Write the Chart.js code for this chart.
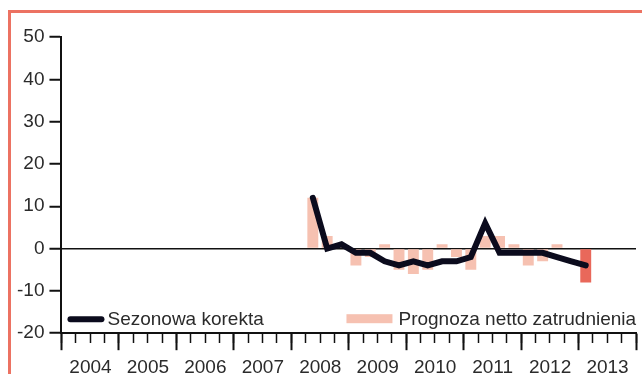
<!DOCTYPE html>
<html>
<head>
<meta charset="utf-8">
<script src="https://cdn.jsdelivr.net/npm/chart.js@4/dist/chart.umd.min.js"></script>
<style>
  html, body { margin: 0; padding: 0; background: #ffffff; }
  #wrap { position: relative; width: 642px; height: 374px; overflow: hidden; }
  #frame { position: absolute; left: 8px; top: 10px; right: 0; bottom: 0;
           border-top: 3px solid #ec7262; border-left: 3px solid #ec7262; }
  #c { position: absolute; left: 0; top: 0; }
</style>
</head>
<body>
<div id="wrap">
  <div id="frame"></div>
  <canvas id="c" width="642" height="374"></canvas>
</div>
<script>
// Quarterly axis, 2004 Q1 – 2013 Q4
const years = [2004, 2005, 2006, 2007, 2008, 2009, 2010, 2011, 2012, 2013];
const quarterNames = ['Q1', 'Q2', 'Q3', 'Q4'];

// Survey results, 2008 Q2 – 2013 Q1
const firstSurveyQuarter = '2008 Q2';
const netForecast = [12, 3, 1, -4, -2, 1, -5, -6, -5, 1, -2, -5, 3, 3, 1, -4, -3, 1, 0, -8];
const seasonallyAdjusted = [12, 0, 1, -1, -1, -3, -4, -3, -4, -3, -3, -2, 6, -1, -1, -1, -1, -2, -3, -4];

const yTicks = { min: -20, max: 50, step: 10 };

const seriesNames = ['Sezonowa korekta', 'Prognoza netto zatrudnienia'];

const lineColor = '#0b0b1d';
const barColor = '#f6c1b1';
const latestBarColor = '#e9685a';
const inkColor = '#111111';
const labelColor = '#2b2b2b';
const font = { family: "'Liberation Sans', Arial, Helvetica, sans-serif", size: 19 };

const quarterLabels = [];
years.forEach(y => quarterNames.forEach(q => quarterLabels.push(y + ' ' + q)));

const start = quarterLabels.indexOf(firstSurveyQuarter);
function placeOnAxis(values) {
  const out = quarterLabels.map(() => null);
  values.forEach((v, i) => { out[start + i] = v; });
  return out;
}
const forecastData = placeOnAxis(netForecast);
const adjustedData = placeOnAxis(seasonallyAdjusted);
const latestIndex = start + netForecast.length - 1;
const nQuarters = quarterLabels.length;

// Legend drawn inside the plot, above the time axis
const insideLegend = {
  id: 'insideLegend',
  afterDatasetsDraw(chart) {
    const { ctx, chartArea } = chart;
    const ds = chart.data.datasets;
    const y = chartArea.bottom - 14;
    ctx.save();
    ctx.font = font.size + 'px ' + font.family;
    ctx.textBaseline = 'middle';
    ctx.fillStyle = labelColor;

    // line sample
    ctx.strokeStyle = ds[0].borderColor;
    ctx.lineWidth = 6;
    ctx.lineCap = 'round';
    ctx.beginPath();
    ctx.moveTo(chartArea.left + 9, y);
    ctx.lineTo(chartArea.left + 40, y);
    ctx.stroke();
    ctx.fillText(ds[0].label, chartArea.left + 46, y + 1);

    // bar sample
    ctx.fillStyle = barColor;
    ctx.fillRect(chartArea.left + 285, y - 5, 46, 9);
    ctx.fillStyle = labelColor;
    ctx.fillText(ds[1].label, chartArea.left + 337, y + 1);
    ctx.restore();
  }
};

new Chart(document.getElementById('c'), {
  data: {
    labels: quarterLabels,
    datasets: [
      {
        type: 'line',
        label: seriesNames[0],
        data: adjustedData,
        borderColor: lineColor,
        borderWidth: 6,
        borderJoinStyle: 'miter',
        borderCapStyle: 'round',
        pointRadius: 0,
        tension: 0,
        xAxisID: 'x',
        yAxisID: 'y'
      },
      {
        type: 'bar',
        label: seriesNames[1],
        data: forecastData,
        backgroundColor: c => (c.dataIndex === latestIndex ? latestBarColor : barColor),
        borderWidth: 0,
        barPercentage: 0.76,
        categoryPercentage: 1,
        xAxisID: 'x',
        yAxisID: 'y'
      }
    ]
  },
  options: {
    responsive: false,
    animation: false,
    events: [],
    layout: { padding: { left: 12, right: -1, top: 37, bottom: -11 } },
    plugins: { legend: { display: false }, tooltip: { enabled: false } },
    scales: {
      x: { type: 'category', display: false, offset: true },
      y: {
        min: yTicks.min,
        max: yTicks.max,
        ticks: { stepSize: yTicks.step, font, color: labelColor, padding: 5 },
        grid: {
          drawOnChartArea: true,
          color: c => (c.tick && c.tick.value === 0 ? inkColor : 'rgba(0,0,0,0)'),
          lineWidth: 1.5,
          tickLength: 12,
          tickColor: inkColor,
          tickWidth: 2
        },
        border: { color: inkColor, width: 2 }
      },
      xYears: {
        type: 'linear',
        position: 'bottom',
        min: 0,
        max: nQuarters,
        afterBuildTicks: s => { s.ticks = years.map((_, i) => ({ value: i * 4 })).concat([{ value: nQuarters }]); },
        ticks: {
          autoSkip: false,
          maxRotation: 0,
          font,
          color: labelColor,
          padding: 6,
          labelOffset: 29,
          callback: v => (v < nQuarters ? String(years[v / 4]) : '')
        },
        grid: { drawOnChartArea: false, tickLength: 17, tickWidth: 2, tickColor: inkColor },
        border: { color: inkColor, width: 2 }
      },
      xQuarters: {
        type: 'linear',
        position: { y: yTicks.min },
        min: 0,
        max: nQuarters,
        afterBuildTicks: s => { s.ticks = quarterLabels.map((_, i) => ({ value: i })).concat([{ value: nQuarters }]); },
        ticks: { display: false },
        grid: { drawOnChartArea: false, tickLength: 10, tickWidth: 1.5, tickColor: inkColor },
        border: { display: false }
      }
    }
  },
  plugins: [insideLegend]
});
</script>
</body>
</html>
